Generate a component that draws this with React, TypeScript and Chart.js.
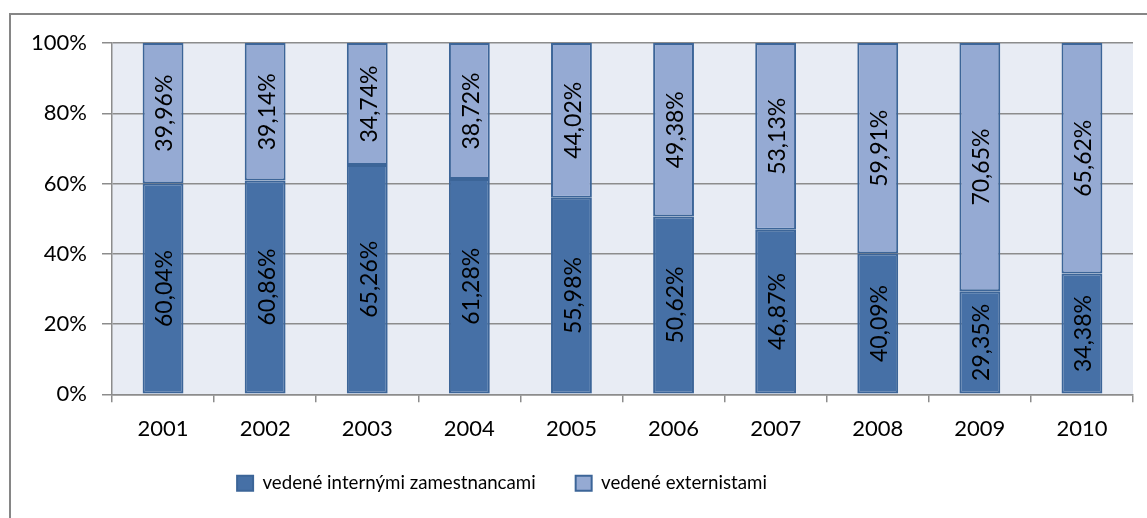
import React, { useEffect, useRef } from "react";
import { Chart, registerables } from "chart.js";

Chart.register(...registerables);

const categories = ["2001", "2002", "2003", "2004", "2005", "2006", "2007", "2008", "2009", "2010"];
const internalValues = [60.04, 60.86, 65.26, 61.28, 55.98, 50.62, 46.87, 40.09, 29.35, 34.38];
const externalValues = [39.96, 39.14, 34.74, 38.72, 44.02, 49.38, 53.13, 59.91, 70.65, 65.62];
const seriesLabels = ["vedené internými zamestnancami", "vedené externistami"];
const yTicks = [0, 20, 40, 60, 80, 100];

const FONT = "Lato, 'Open Sans', sans-serif";

const fmt = (v: number) => v.toFixed(2).replace(".", ",") + "%";

const plotBg = {
  id: "plotBg",
  beforeDraw(chart: any) {
    const { ctx, chartArea } = chart;
    if (!chartArea) return;
    ctx.save();
    ctx.fillStyle = "#E8ECF4";
    ctx.fillRect(chartArea.left, chartArea.top, chartArea.right - chartArea.left, chartArea.bottom - chartArea.top);
    ctx.restore();
  },
};

const barLabels = {
  id: "barLabels",
  afterDatasetsDraw(chart: any) {
    const { ctx } = chart;
    ctx.save();
    ctx.font = `23px ${FONT}`;
    ctx.fillStyle = "#000";
    ctx.textAlign = "center";
    ctx.textBaseline = "middle";
    chart.data.datasets.forEach((ds: any, di: number) => {
      const meta = chart.getDatasetMeta(di);
      meta.data.forEach((el: any, i: number) => {
        const v = ds.data[i];
        const cy = (el.y + el.base) / 2;
        ctx.save();
        ctx.translate(el.x, cy);
        ctx.rotate(-Math.PI / 2);
        ctx.fillText(fmt(v), 0, 2);
        ctx.restore();
      });
    });
    ctx.restore();
  },
};

const legendShift = {
  id: "legendShift",
  afterLayout(chart: any) {
    const lg = chart.legend;
    if (!lg) return;
    const h = lg.bottom - lg.top;
    lg.left = 0;
    lg.right = 1004;
    lg.top = 434;
    lg.bottom = 434 + h;
  },
};

export default function App() {
  const ref = useRef<HTMLCanvasElement | null>(null);
  useEffect(() => {
    if (!ref.current) return;
    const chart = new Chart(ref.current, {
      type: "bar",
      data: {
        labels: categories,
        datasets: [
          {
            label: seriesLabels[0],
            data: internalValues,
            backgroundColor: "#4670A6",
            borderColor: "#3C6598",
            borderWidth: 2,
            borderSkipped: false,
            barPercentage: 0.4,
            categoryPercentage: 1,
          },
          {
            label: seriesLabels[1],
            data: externalValues,
            backgroundColor: "#95AAD3",
            borderColor: "#3C6598",
            borderWidth: 2,
            borderSkipped: false,
            barPercentage: 0.4,
            categoryPercentage: 1,
          },
        ],
      },
      options: {
        responsive: false,
        animation: false,
        devicePixelRatio: 1,
        layout: { padding: { top: 43, right: 14, left: 0, bottom: 2 } },
        plugins: {
          tooltip: { enabled: false },
          legend: {
            position: "bottom",
            labels: {
              font: { size: 18.7, family: FONT },
              color: "#000",
              boxWidth: 16,
              boxHeight: 15,
              padding: 40,
            },
          },
        },
        scales: {
          x: {
            stacked: true,
            grid: {
              offset: true,
              drawOnChartArea: false,
              drawTicks: true,
              tickLength: 8,
              color: "#8C8C8C",
              lineWidth: 1.5,
            },
            border: { display: true, color: "#8C8C8C", width: 1.5 },
            ticks: { font: { size: 22, family: FONT }, color: "#000", padding: 13 },
            afterFit(scale: any) {
              scale.height = 53;
            },
          },
          y: {
            stacked: true,
            min: 0,
            max: 100,
            afterBuildTicks(scale: any) {
              scale.ticks = yTicks.map((v) => ({ value: v }));
            },
            grid: {
              color: "#8C8C8C",
              lineWidth: 1.5,
              drawTicks: true,
              tickLength: 10,
            },
            border: { display: true, color: "#8C8C8C", width: 1.5 },
            ticks: {
              font: { size: 22, family: FONT },
              color: "#000",
              padding: 15,
              callback: (v: any) => v + "%",
            },
            afterFit(scale: any) {
              scale.width = 112;
            },
          },
        },
      },
      plugins: [plotBg, barLabels, legendShift],
    });
    return () => chart.destroy();
  }, []);

  return (
    <div style={{ position: "fixed", left: 0, top: 0, width: 1147, height: 518, overflow: "hidden", background: "#fff" }}>
      <div
        style={{
          position: "absolute",
          left: 9,
          top: 13,
          width: 1300,
          height: 700,
          border: "2px solid #868686",
        }}
      />
      <canvas ref={ref} width={1147} height={518} style={{ position: "absolute", left: 0, top: 0 }} />
    </div>
  );
}
